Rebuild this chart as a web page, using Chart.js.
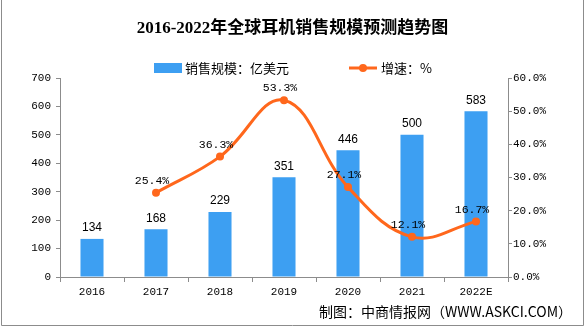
<!DOCTYPE html>
<html>
<head>
<meta charset="utf-8">
<script src="https://cdn.jsdelivr.net/npm/chart.js@4"></script>
<style>
html, body { margin: 0; padding: 0; background: #fff; }
canvas { display: block; }
</style>
</head>
<body>
<canvas id="chart" width="585" height="327"></canvas>
<script>
/* ===================== DATA ===================== */
const years = ["2016", "2017", "2018", "2019", "2020", "2021", "2022E"];
const sales = [134, 168, 229, 351, 446, 500, 583];
const growth = [null, 25.4, 36.3, 53.3, 27.1, 12.1, 16.7];

const TITLE = "2016-2022年全球耳机销售规模预测趋势图";
const SOURCE = "制图：中商情报网（WWW.ASKCI.COM）";

const BLUE = "#3d9ff2";
const ORANGE = "#ff671c";
const AXIS = "#8c8c8c";
const MONO = "'Liberation Mono', 'Noto Sans CJK SC', monospace";
const CJK = "'Noto Sans CJK SC', sans-serif";

/* ===================== EXTRAS: title, legend, labels, frame ===================== */
const extras = {
  id: "extras",
  afterDatasetsDraw(chart) {
    const ctx = chart.ctx;
    ctx.save();

    // bar values
    ctx.fillStyle = "#000";
    ctx.textAlign = "center";
    ctx.textBaseline = "middle";
    ctx.font = "12px 'Liberation Sans', sans-serif";
    chart.getDatasetMeta(0).data.forEach((b, i) => {
      ctx.fillText(sales[i], b.x, b.y - 11);
    });

    // growth values
    ctx.font = "11.5px " + MONO;
    chart.getDatasetMeta(1).data.forEach((p, i) => {
      if (growth[i] == null) return;
      ctx.fillText(growth[i].toFixed(1) + "%", p.x - 4, p.y - 12);
    });
    ctx.restore();
  },
  afterDraw(chart) {
    const ctx = chart.ctx;
    const W = chart.width, H = chart.height;
    ctx.save();

    // title
    ctx.fillStyle = "#000";
    ctx.textAlign = "center";
    ctx.textBaseline = "middle";
    ctx.font = "bold 17px 'Liberation Serif', 'Noto Sans CJK SC', serif";
    ctx.fillText(TITLE, W / 2, 29);

    // legend
    ctx.textAlign = "left";
    ctx.font = "13px " + CJK;
    ctx.fillStyle = BLUE;
    ctx.fillRect(154, 63, 28, 10);
    ctx.fillStyle = "#000";
    ctx.fillText(chart.data.datasets[0].label, 185, 68);

    ctx.strokeStyle = ORANGE;
    ctx.lineWidth = 3;
    ctx.beginPath();
    ctx.moveTo(349, 68);
    ctx.lineTo(377, 68);
    ctx.stroke();
    ctx.fillStyle = ORANGE;
    ctx.beginPath();
    ctx.arc(363, 68, 4, 0, Math.PI * 2);
    ctx.fill();
    ctx.fillStyle = "#000";
    ctx.fillText(chart.data.datasets[1].label, 381, 68);

    // source
    ctx.textAlign = "right";
    ctx.font = "14px " + CJK;
    ctx.fillText(SOURCE, 572, 312);

    // frame
    ctx.strokeStyle = AXIS;
    ctx.lineWidth = 1;
    ctx.beginPath();
    ctx.moveTo(1.5, 0);
    ctx.lineTo(1.5, H - 1.5);
    ctx.lineTo(W - 1.5, H - 1.5);
    ctx.lineTo(W - 1.5, 0);
    ctx.stroke();
    ctx.restore();
  }
};

/* ===================== CHART ===================== */
const tickFont = { family: MONO, size: 11 };

new Chart(document.getElementById("chart"), {
  data: {
    labels: years,
    datasets: [
      {
        type: "bar",
        label: "销售规模：亿美元",
        data: sales,
        yAxisID: "y",
        backgroundColor: BLUE,
        barPercentage: 0.45,
        categoryPercentage: 0.8,
        order: 1
      },
      {
        type: "line",
        label: "增速：%",
        data: growth,
        yAxisID: "y1",
        borderColor: ORANGE,
        backgroundColor: ORANGE,
        borderWidth: 3,
        pointRadius: 4,
        pointBackgroundColor: ORANGE,
        pointBorderWidth: 0,
        tension: 0.4,
        order: 0
      }
    ]
  },
  options: {
    responsive: false,
    animation: false,
    layout: { padding: { left: 10, right: 0, top: 78, bottom: 20 } },
    plugins: {
      legend: { display: false },
      title: { display: false },
      tooltip: { enabled: false }
    },
    scales: {
      x: {
        offset: true,
        grid: { offset: true, drawOnChartArea: false, tickLength: 5, color: AXIS },
        border: { color: AXIS },
        ticks: { font: tickFont, color: "#000", padding: 3 },
        afterFit(s) { s.height = 30; }
      },
      y: {
        position: "left",
        min: 0,
        max: 700,
        ticks: { stepSize: 100, font: tickFont, color: "#000", padding: 5 },
        grid: { drawOnChartArea: false, tickLength: 4, color: AXIS },
        border: { color: AXIS },
        afterFit(s) { s.width = 50; }
      },
      y1: {
        position: "right",
        min: 0,
        max: 60,
        ticks: {
          stepSize: 10,
          font: tickFont,
          color: "#000",
          padding: 1,
          callback: v => v.toFixed(1) + "%"
        },
        grid: { drawOnChartArea: false, tickLength: 4, color: AXIS },
        border: { color: AXIS },
        afterFit(s) { s.width = 77; }
      }
    }
  },
  plugins: [extras]
});
</script>
</body>
</html>
